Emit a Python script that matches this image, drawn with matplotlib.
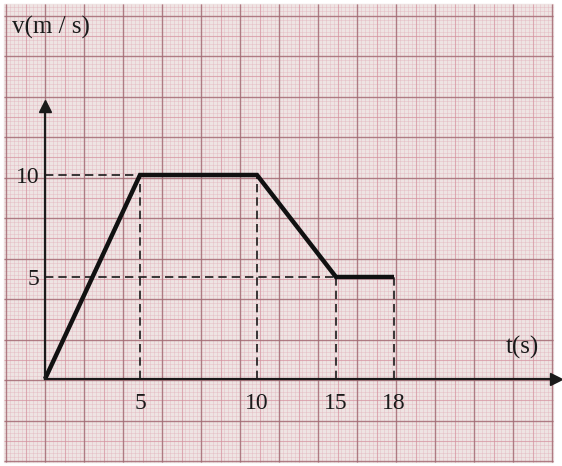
import numpy as np
import matplotlib
matplotlib.use('Agg')
import matplotlib.pyplot as plt
from matplotlib.collections import LineCollection

# chart data
t = [0, 5, 10, 15, 18]
v = [0, 10, 10, 5, 5]
t_ticks = [5, 10, 15, 18]
t_labels = ['5', '10', '15', '18']
v_ticks = [5, 10]
v_labels = ['5', '10']
guides_h = [(5, 10), (15, 5)]          # (t end, v) of dashed horizontal guides
guides_v = [(5, 10), (10, 10), (15, 5), (18, 5)]   # (t, v top) of dashed vertical guides

W, H = 562, 466
plt.rcParams['font.family'] = ['Liberation Serif', 'DejaVu Serif']

fig = plt.figure(figsize=(W / 100, H / 100), dpi=100)
fig.patch.set_facecolor('white')

# graph paper background (pixel coords)
bg = fig.add_axes([0, 0, 1, 1])
bg.set_xlim(0, W)
bg.set_ylim(H, 0)
bg.axis('off')
x0, x1, y0, y1 = 4, 553, 4, 462
bg.add_patch(plt.Rectangle((x0, y0), x1 - x0, y1 - y0, color='#eee4e3', zorder=0))

def paper_lines(step, origin, lo, hi):
    k0 = int(np.ceil((lo - origin) / step))
    k1 = int(np.floor((hi - origin) / step))
    return origin + step * np.arange(k0, k1 + 1)

for frac, col, lw, a in [(0.1, '#e2b0ba', 0.5, 0.55),
                         (0.5, '#d4909d', 0.8, 0.6),
                         (1.0, '#9c6870', 1.0, 0.7)]:
    xs = paper_lines(39 * frac, 45, x0, x1)
    ys = paper_lines(40.5 * frac, 380, y0, y1)
    segs = [[(x, y0), (x, y1)] for x in xs] + [[(x0, y), (x1, y)] for y in ys]
    bg.add_collection(LineCollection(segs, colors=col, linewidths=lw, alpha=a, zorder=1))

# data axes: the drawing is not to scale along t, so map t piecewise
t_knots = [-10, 0, 5, 10, 15, 18, 40]
px_knots = [-145, 45, 140, 257, 336, 394, 819]
fwd = lambda x: np.interp(x, t_knots, px_knots)
inv = lambda p: np.interp(p, px_knots, t_knots)

ax = fig.add_axes([0, 0, 1, 1])
ax.patch.set_alpha(0)
ax.set_xscale('function', functions=(fwd, inv))
ax.set_xlim(inv(0), inv(W))
px_per_v = 20.4
ax.set_ylim(-(H - 379) / px_per_v, 379 / px_per_v)

t_end = inv(556)
v_end = (379 - 106) / px_per_v

for s in ['top', 'right']:
    ax.spines[s].set_visible(False)
ax.spines['bottom'].set_position(('data', 0))
ax.spines['left'].set_position(('data', 0))
ax.spines['bottom'].set_bounds(0, t_end)
ax.spines['left'].set_bounds(0, v_end)
for s in ['bottom', 'left']:
    ax.spines[s].set_linewidth(1.6)
    ax.spines[s].set_color('#1a1a1a')
ax.plot([t_end], [0], marker='>', ms=9, color='#1a1a1a', clip_on=False)
ax.plot([0], [v_end], marker='^', ms=9, color='#1a1a1a', clip_on=False)

ax.set_xticks(t_ticks, t_labels)
ax.set_yticks(v_ticks, v_labels)
ax.xaxis.set_minor_locator(matplotlib.ticker.NullLocator())
ax.tick_params(axis='x', length=0, pad=10, labelsize=17, labelcolor='#1a1a1a')
ax.tick_params(axis='y', length=0, pad=4, labelsize=17, labelcolor='#1a1a1a')

dash = dict(color='#1a1a1a', lw=1.2, ls=(0, (5, 3)))
for te, vv in guides_h:
    ax.plot([0, te], [vv, vv], **dash)
for tt, vt in guides_v:
    ax.plot([tt, tt], [0, vt], **dash)

ax.plot(t, v, color='#111111', lw=3.2, solid_capstyle='butt', solid_joinstyle='miter')

fig.text(12 / W, 1 - 27 / H, 'v(m / s)', fontsize=18, va='center', ha='left', color='#1a1a1a')
fig.text(506 / W, 1 - 347 / H, 't(s)', fontsize=18, va='center', ha='left', color='#1a1a1a')

fig.savefig('out.png', dpi=100)
